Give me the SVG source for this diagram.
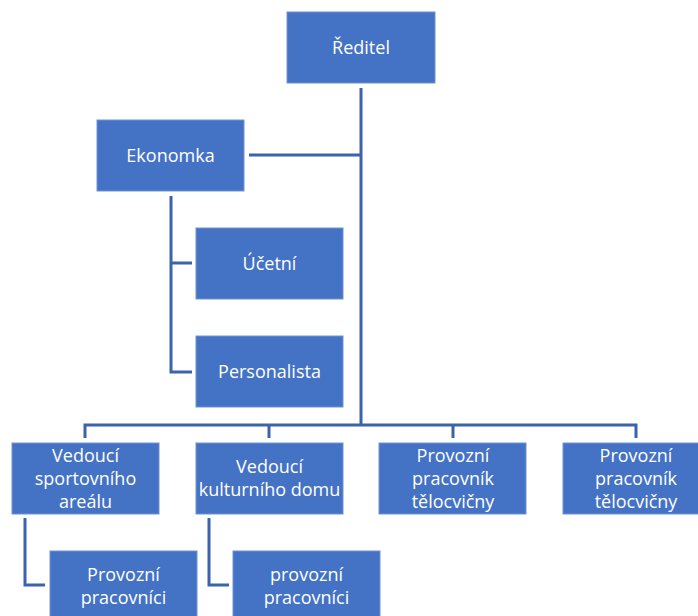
<svg xmlns="http://www.w3.org/2000/svg" width="698" height="616" viewBox="0 0 698 616">
<style>
.box{fill:#4472C4;stroke:#6E93D6;stroke-width:1}
.t{font-family:"Open Sans","Liberation Sans",sans-serif;font-size:18px;fill:#FFFFFF;text-anchor:middle}
.c{fill:none;stroke:#3B62AC;stroke-width:3}
</style>
<rect width="698" height="616" fill="#FFFFFF"/>
<g id="connectors">
<polyline class="c" points="361,88 361,425"/>
<polyline class="c" points="249,155 361,155"/>
<polyline class="c" points="171,196 171,372 192,372"/>
<polyline class="c" points="171,263 192,263"/>
<polyline class="c" points="85,438 85,425 636,425 636,438"/>
<polyline class="c" points="269,425 269,438"/>
<polyline class="c" points="453,425 453,438"/>
<polyline class="c" points="25,518 25,585 45,585"/>
<polyline class="c" points="209,518 209,585 229,585"/>
</g>
<g id="reditel"><rect class="box" x="287" y="12" width="148" height="71"/><text class="t" x="361" y="54">Ředitel</text></g>
<g id="ekonomka"><rect class="box" x="97" y="120" width="147" height="71"/><text class="t" x="170.5" y="162">Ekonomka</text></g>
<g id="ucetni"><rect class="box" x="196" y="228" width="147" height="71"/><text class="t" x="269.5" y="270">Účetní</text></g>
<g id="personalista"><rect class="box" x="196" y="336" width="147" height="71"/><text class="t" x="269.5" y="378">Personalista</text></g>
<g id="vedouci-sport"><rect class="box" x="12" y="443" width="147" height="71"/><text class="t" x="85.5" y="462">Vedoucí</text><text class="t" x="85.5" y="485">sportovního</text><text class="t" x="85.5" y="508">areálu</text></g>
<g id="vedouci-kultura"><rect class="box" x="196" y="443" width="147" height="71"/><text class="t" x="269.5" y="473">Vedoucí</text><text class="t" x="269.5" y="496">kulturního domu</text></g>
<g id="provozni-telocvicna-1"><rect class="box" x="379" y="443" width="147" height="71"/><text class="t" x="453" y="462">Provozní</text><text class="t" x="453" y="485">pracovník</text><text class="t" x="453" y="508">tělocvičny</text></g>
<g id="provozni-telocvicna-2"><rect class="box" x="563" y="443" width="147" height="71"/><text class="t" x="636" y="462">Provozní</text><text class="t" x="636" y="485">pracovník</text><text class="t" x="636" y="508">tělocvičny</text></g>
<g id="provozni-pracovnici-1"><rect class="box" x="50" y="551" width="147" height="71"/><text class="t" x="123.5" y="581">Provozní</text><text class="t" x="123.5" y="604">pracovníci</text></g>
<g id="provozni-pracovnici-2"><rect class="box" x="233" y="551" width="147" height="71"/><text class="t" x="306.5" y="581">provozní</text><text class="t" x="306.5" y="604">pracovníci</text></g>
</svg>
